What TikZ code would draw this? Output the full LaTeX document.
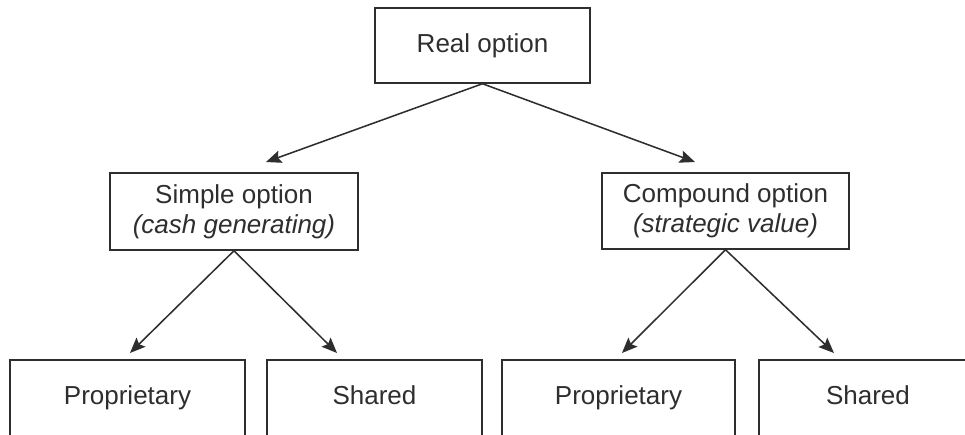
\documentclass[tikz,border=0pt]{standalone}
\usepackage{fontspec}
\setmainfont{Liberation Sans}
\usetikzlibrary{arrows.meta}
\definecolor{ink}{HTML}{2E2E2E}
\begin{document}
\begin{tikzpicture}[x=0.75pt,y=-0.75pt,
  box/.style={draw=ink,line width=1.1pt,rectangle,inner sep=0pt,align=center,
    font=\fontsize{19.5}{22.5}\selectfont,text=ink},
  single/.style={text height=14pt,text depth=4pt},
  conn/.style={draw=ink,line width=1.15pt,-{Stealth[length=11.5pt,width=9.5pt,inset=2pt]}}]
\useasboundingbox (0,0) rectangle (965,435);
\clip (0,0) rectangle (965,435);
\fill[white] (0,0) rectangle (965,435);
\node[box,single,minimum width=161.25pt,minimum height=56.25pt] (real) at (482.5,45.5) {Real option};
\node[box,minimum width=186pt,minimum height=57.75pt] (simple) at (234,211.5) {Simple option\\\textit{(cash generating)}};
\node[box,minimum width=185.25pt,minimum height=57pt] (compound) at (725.5,211) {Compound option\\\textit{(strategic value)}};
\node[box,single,minimum width=176.25pt,minimum height=57pt] (prop1) at (127.5,398) {Proprietary};
\node[box,single,minimum width=161.25pt,minimum height=57pt] (shared1) at (374.5,398) {Shared};
\node[box,single,minimum width=174.75pt,minimum height=57pt] (prop2) at (618.5,398) {Proprietary};
\node[box,single,minimum width=163.5pt,minimum height=57pt] (shared2) at (868,398) {Shared};
\coordinate (t1) at (266,162);
\coordinate (t2) at (695,162);
\coordinate (s1) at (130,353);
\coordinate (s2) at (337,353);
\coordinate (c1) at (622,353);
\coordinate (c2) at (834,353);
\draw[conn] (real.south) -- (t1);
\draw[conn] (real.south) -- (t2);
\draw[conn] (simple.south) -- (s1);
\draw[conn] (simple.south) -- (s2);
\draw[conn] (compound.south) -- (c1);
\draw[conn] (compound.south) -- (c2);
\end{tikzpicture}
\end{document}
